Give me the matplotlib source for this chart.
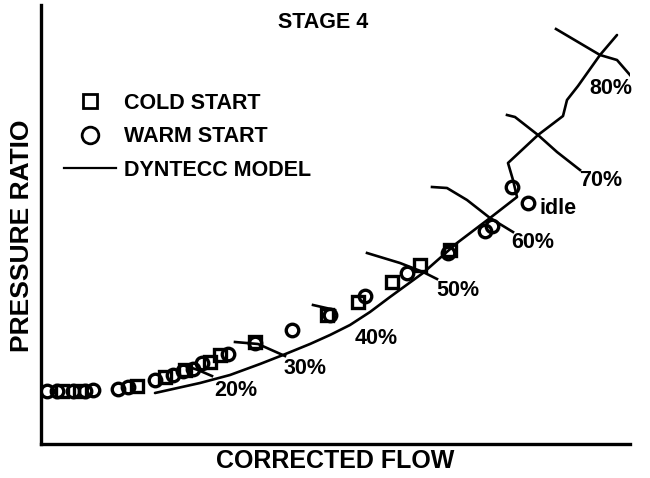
import matplotlib
matplotlib.use("Agg")
import matplotlib.pyplot as plt
from matplotlib.lines import Line2D

plt.rcParams['font.family'] = ['Liberation Sans', 'DejaVu Sans']

# --- data (arbitrary units) ---
warm_flow = [47, 57, 73, 85, 93, 118, 128, 155, 173, 183, 193, 202, 228, 255, 292, 330,
             365, 407, 448, 485, 492, 512, 528]
warm_pr = [87, 87, 87, 87, 88, 89, 91, 98, 103, 107, 109, 115, 124, 135, 148, 163,
           182, 205, 225, 247, 252, 291, 275]
cold_flow = [62, 80, 137, 165, 185, 210, 220, 255, 327, 358, 392, 420, 450]
cold_pr = [87, 87, 92, 101, 108, 116, 123, 136, 163, 176, 196, 213, 228]

model_flow = [155, 200, 230, 260, 283, 310, 330, 350, 370, 390, 423, 457, 490, 517, 513,
              508, 538, 563, 567, 578, 600, 617]
model_pr = [85, 95, 103, 114, 123, 134, 143, 153, 166, 181, 205, 235, 260, 281, 298,
            315, 343, 362, 378, 392, 423, 443]

speed_labels = ['20%', '30%', '40%', '50%', '60%', '70%', '80%']
speed_flow = [[183, 198, 212], [235, 258, 285], [313, 335], [367, 400, 423, 437],
              [432, 447, 467, 490, 513], [507, 515, 538, 557, 580], [556, 600, 617, 630]]
speed_pr = [[113, 108, 102], [136, 134, 122], [173, 168], [225, 215, 206, 199],
            [291, 290, 278, 260, 246], [363, 361, 343, 326, 308], [449, 423, 418, 403]]
label_flow = [236, 305, 376, 458, 533, 601, 611]
label_pr = [88, 109, 139, 188, 235, 298, 389]
idle_flow, idle_pr = 558, 269

fig = plt.figure(figsize=(6.5, 4.78), dpi=100)
ax = fig.add_axes([41 / 650, 34 / 478, (630 - 41) / 650, (473 - 34) / 478])
ax.set_xlim(41, 630)
ax.set_ylim(34, 473)
for s in ['top', 'right']:
    ax.spines[s].set_visible(False)
for s in ['left', 'bottom']:
    ax.spines[s].set_linewidth(2.4)
ax.set_xticks([])
ax.set_yticks([])

lw = 1.9
ax.plot(model_flow, model_pr, color='black', lw=lw, solid_capstyle='round',
        solid_joinstyle='round')
for fx, py in zip(speed_flow, speed_pr):
    ax.plot(fx, py, color='black', lw=lw, solid_joinstyle='round')
ax.plot(warm_flow, warm_pr, 'o', ms=9, mfc='none', mec='black', mew=2.4, ls='none')
ax.plot(cold_flow, cold_pr, 's', ms=8, mfc='none', mec='black', mew=2.4, ls='none')

fs = 15.5
for t, x, y in zip(speed_labels, label_flow, label_pr):
    ax.text(x, y, t, fontsize=fs, fontweight='bold', ha='center', va='center')
ax.text(idle_flow, idle_pr, 'idle', fontsize=fs, fontweight='bold', ha='center', va='center')

fig.text(323 / 650, 1 - 22 / 478, 'STAGE 4', fontsize=fs, fontweight='bold',
         ha='center', va='center')
fig.text(335 / 650, 1 - 461 / 478, 'CORRECTED FLOW', fontsize=18, fontweight='bold',
         ha='center', va='center')
fig.text(22 / 650, 1 - 236 / 478, 'PRESSURE RATIO', fontsize=19, fontweight='bold',
         ha='center', va='center', rotation=90)

handles = [Line2D([], [], marker='s', ms=10, mfc='none', mec='black', mew=2.0, ls='none'),
           Line2D([], [], marker='o', ms=12, mfc='none', mec='black', mew=2.0, ls='none'),
           Line2D([], [], color='black', lw=1.6)]
ax.legend(handles, ['COLD START', 'WARM START', 'DYNTECC MODEL'], loc='upper left',
          bbox_to_anchor=(64 / 650, 1 - 93 / 478), bbox_transform=fig.transFigure,
          frameon=False, prop={'weight': 'bold', 'size': fs},
          handlelength=2.4, handletextpad=0.4, labelspacing=0.58, borderpad=0,
          borderaxespad=0)

fig.savefig('out.png', dpi=100)
